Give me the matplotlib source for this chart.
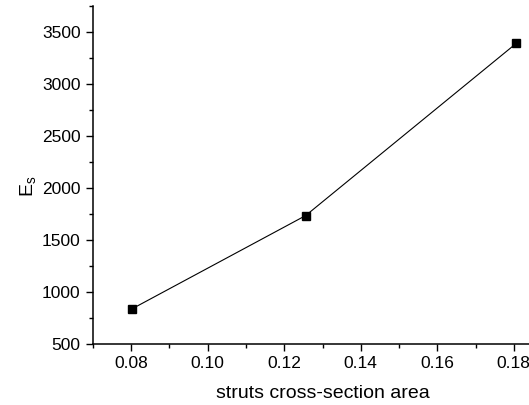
import matplotlib
matplotlib.use("Agg")
import matplotlib.pyplot as plt
from matplotlib.ticker import MultipleLocator

plt.rcParams['font.family'] = ['Liberation Sans', 'DejaVu Sans']

area = [0.0802, 0.1256, 0.1807]
Es = [838, 1735, 3392]

fig = plt.figure(figsize=(5.29, 4.05), dpi=100)
ax = fig.add_axes([93/529, 61/405, 459/529, 338/405])

ax.plot(area, Es, color='black', lw=0.8, marker='s', markersize=5.2,
        markerfacecolor='black', markeredgecolor='black')

ax.set_xlim(0.07, 0.19)
ax.set_ylim(500, 3750)
ax.xaxis.set_major_locator(MultipleLocator(0.02))
ax.xaxis.set_minor_locator(MultipleLocator(0.01))
ax.yaxis.set_major_locator(MultipleLocator(500))
ax.yaxis.set_minor_locator(MultipleLocator(250))
ax.xaxis.set_major_formatter(plt.FuncFormatter(lambda v, p: f"{v:.2f}"))
ax.yaxis.set_major_formatter(plt.FuncFormatter(lambda v, p: f"{v:.0f}"))

for s in ['top', 'right']:
    ax.spines[s].set_visible(False)
for s in ['left', 'bottom']:
    ax.spines[s].set_linewidth(1.1)

ax.tick_params(which='major', direction='out', length=5, width=1.0, labelsize=12.5, pad=4)
ax.tick_params(which='minor', direction='out', length=3, width=1.0)

ax.set_xlabel('struts cross-section area', fontsize=14, labelpad=10)
ax.set_ylabel('E$_\\mathregular{s}$', fontsize=14)
ax.yaxis.set_label_coords(-0.118, 0.467)

fig.savefig('out.png', dpi=100)
